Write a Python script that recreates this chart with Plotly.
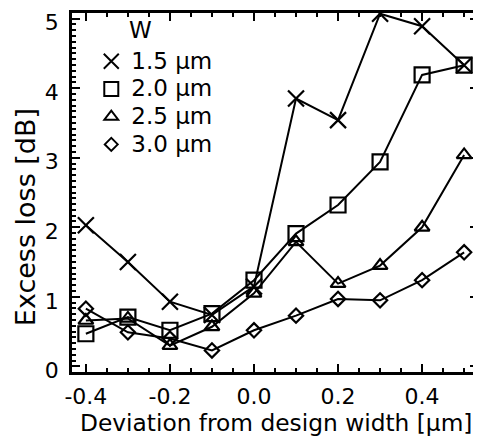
import plotly.graph_objects as go

deviation = [-0.4, -0.3, -0.2, -0.1, 0.0, 0.1, 0.2, 0.3, 0.4, 0.5]
loss_15 = [2.03, 1.50, 0.93, 0.74, 1.15, 3.85, 3.54, 5.07, 4.89, 4.33]
loss_20 = [0.47, 0.71, 0.52, 0.76, 1.24, 1.91, 2.32, 2.94, 4.19, 4.33]
loss_25 = [0.66, 0.69, 0.30, 0.57, 1.05, 1.79, 1.19, 1.45, 2.0, 3.04]
loss_30 = [0.83, 0.49, 0.40, 0.23, 0.52, 0.73, 0.97, 0.95, 1.24, 1.64]
series_names = ["1.5 µm", "2.0 µm", "2.5 µm", "3.0 µm"]
symbols = ["x-thin-open", "square-open", "triangle-up-open", "diamond-open"]
sizes = [16, 15, 13, 11]

FONT = "DejaVu Sans, Liberation Sans, Arial, sans-serif"
fig = go.Figure()
for name, vals, sym, sz in zip(series_names, [loss_15, loss_20, loss_25, loss_30], symbols, sizes):
    fig.add_trace(go.Scatter(
        x=deviation, y=vals, mode="lines+markers", showlegend=False,
        line=dict(color="black", width=2),
        marker=dict(symbol=sym, size=sz, color="black", line=dict(color="black", width=2.2)),
    ))
    fig.add_trace(go.Scatter(
        x=[None], y=[None], mode="markers",
        name=f'<span style="font-size:23px">{name}</span>',
        marker=dict(symbol=sym, size=sz - 1, color="black", line=dict(color="black", width=2)),
    ))

axis_common = dict(
    showgrid=False, zeroline=False, showline=True, linecolor="black", linewidth=2.5,
    mirror="allticks", ticks="inside", ticklen=8, tickwidth=2, tickcolor="black",
    tickfont=dict(family=FONT, size=22, color="black"), automargin=False,
    ticklabeloverflow="allow",
)
fig.update_xaxes(
    **axis_common, range=[-0.433, 0.533], tickvals=[-0.4, -0.2, 0.0, 0.2, 0.4],
    ticktext=["-0.4", "-0.2", "0.0", "0.2", "0.4"], ticklabelstandoff=3,
    minor=dict(dtick=0.05, tick0=0, ticks="inside", ticklen=4, tickcolor="black", tickwidth=1.5),
)
fig.update_yaxes(
    **axis_common, range=[-0.08, 5.08], tickvals=[0, 1, 2, 3, 4, 5],
    ticklabelstandoff=6, ticklabelshift=4,
    minor=dict(dtick=1 / 12, tick0=0, ticks="inside", ticklen=4, tickcolor="black", tickwidth=1.5),
)
fig.add_annotation(
    x=0.503, y=-0.14, xref="paper", yref="paper", xanchor="center", yanchor="middle",
    text="Deviation from design width [µm]", showarrow=False,
    font=dict(family=FONT, size=23.3, color="black"),
)
fig.add_annotation(
    x=-0.116, y=0.431, xref="paper", yref="paper", xanchor="center", yanchor="middle",
    text="Excess loss [dB]", textangle=-90, showarrow=False,
    font=dict(family=FONT, size=27, color="black"),
)
fig.add_annotation(
    x=0.136, y=0.952, xref="paper", yref="paper", xanchor="left", yanchor="middle",
    text="W", showarrow=False, font=dict(family=FONT, size=23, color="black"),
)
fig.update_layout(
    width=481, height=443, paper_bgcolor="white", plot_bgcolor="white",
    margin=dict(l=64, r=11, t=5, b=79),
    font=dict(family=FONT, color="black"),
    legend=dict(
        x=0.0475, y=0.918, xanchor="left", yanchor="top", bgcolor="rgba(0,0,0,0)",
        font=dict(family=FONT, size=19, color="black"),
        itemwidth=30, tracegroupgap=0,
    ),
)
fig.write_html("out.html")
